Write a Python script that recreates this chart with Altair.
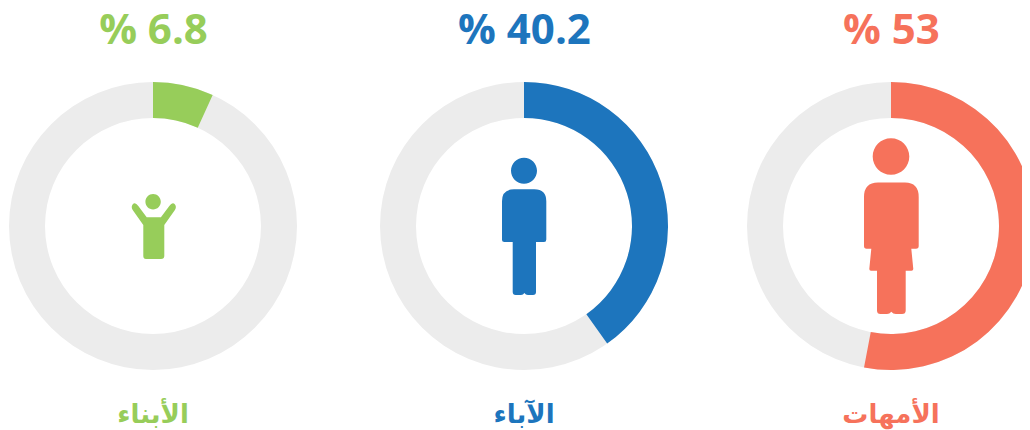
import math
import altair as alt
import pandas as pd

labels = ["الأبناء", "الآباء", "الأمهات"]
percents = [6.8, 40.2, 53]
headlines = ["% 6.8", "% 40.2", "% 53"]
colors = ["#97CD5A", "#1D75BD", "#F6725B"]

child_icon = ("M-7.6,-24.3A7.7,7.7 0 1,1 7.8,-24.3A7.7,7.7 0 1,1 -7.6,-24.3Z"
              "M-6.3,-8.7H7.9L16.3,-20Q19.5,-24.5 22,-21.5Q23.8,-19 21.9,-16L11.3,-1V30Q11.3,33 8,33H-7Q-9.7,33 -9.7,30V-1"
              "L-20.3,-16Q-22.2,-19 -20.4,-21.5Q-18,-24.5 -14.7,-20Z")
father_icon = ("M-13,-55.3A13,13 0 1,1 13,-55.3A13,13 0 1,1 -13,-55.3Z"
               "M-10,-36.7H10.3Q22.3,-36.7 22.3,-24.7V13.5Q22.3,16 20,16H12V66Q12,69 9,69H4Q1.6,69 0.4,67Q-0.8,69 -3,69H-8.3Q-11.3,69 -11.3,66V16"
               "H-19.5Q-22,16 -22,13.5V-24.7Q-22,-36.7 -10,-36.7Z")
mother_icon = ("M-18.3,-69.5A18.3,18.3 0 1,1 18.3,-69.5A18.3,18.3 0 1,1 -18.3,-69.5Z"
               "M-13,-43.5H14Q27.7,-43.5 27.7,-29V20Q27.7,22.7 25,22.7H20.3L22.3,43Q22.3,44.7 20.5,44.7H14.7V84.5Q14.7,88 11,88H5Q2,88 0.3,85.7"
               "Q-1.4,88 -4,88H-10.5Q-14,88 -14,84.5V44.7H-20Q-21.7,44.7 -21.7,43L-19.7,22.7H-24.5Q-27,22.7 -27,20V-29Q-27,-43.5 -13,-43.5Z")
icons = [child_icon, father_icon, mother_icon]

df = pd.DataFrame({
    "slot": [0, 1, 2],
    "label": labels,
    "pct": percents,
    "headline": headlines,
    "start": [0, 0, 0],
    "full": [100, 100, 100],
})

x = alt.X("slot:Q", scale=alt.Scale(domain=[0, 1, 2], range=[145, 516, 883]), axis=None)
color = alt.Color("slot:N", scale=alt.Scale(domain=[0, 1, 2], range=colors), legend=None)
theta_scale = alt.Scale(domain=[0, 100], range=[0, 2 * math.pi])
base = alt.Chart(df)

layers = []
for i in range(3):
    row = alt.Chart(df[df.slot == i])
    layers.append(row.mark_arc(radius=144, radius2=108, color="#ECECEC").encode(
        x=x, y=alt.value(218),
        theta=alt.Theta("start:Q", scale=theta_scale), theta2=alt.Theta2("full:Q"),
    ))
    layers.append(row.mark_arc(radius=144, radius2=108).encode(
        x=x, y=alt.value(218), color=color,
        theta=alt.Theta("start:Q", scale=theta_scale), theta2=alt.Theta2("pct:Q"),
    ))
    layers.append(row.mark_point(shape=icons[i], size=4, filled=True, opacity=1).encode(
        x=x, y=alt.value(218), color=color))

top = base.mark_text(font="Open Sans", fontWeight="bold", fontSize=42, align="center",
                     baseline="alphabetic", dx=0.5).encode(
    x=x, y=alt.value(36), color=color, text="headline:N")
bottom = base.mark_text(font="DejaVu Sans", fontWeight="bold", fontSize=26, align="center",
                        baseline="alphabetic").encode(
    x=x, y=alt.value(415), color=color, text="label:N")

chart = alt.layer(*layers, top, bottom).properties(
    width=1014, height=422, padding=0, autosize=alt.AutoSizeParams(type="none"),
).configure_view(stroke=None)

chart.save("out.html", embed_options={"renderer": "svg", "actions": False})
